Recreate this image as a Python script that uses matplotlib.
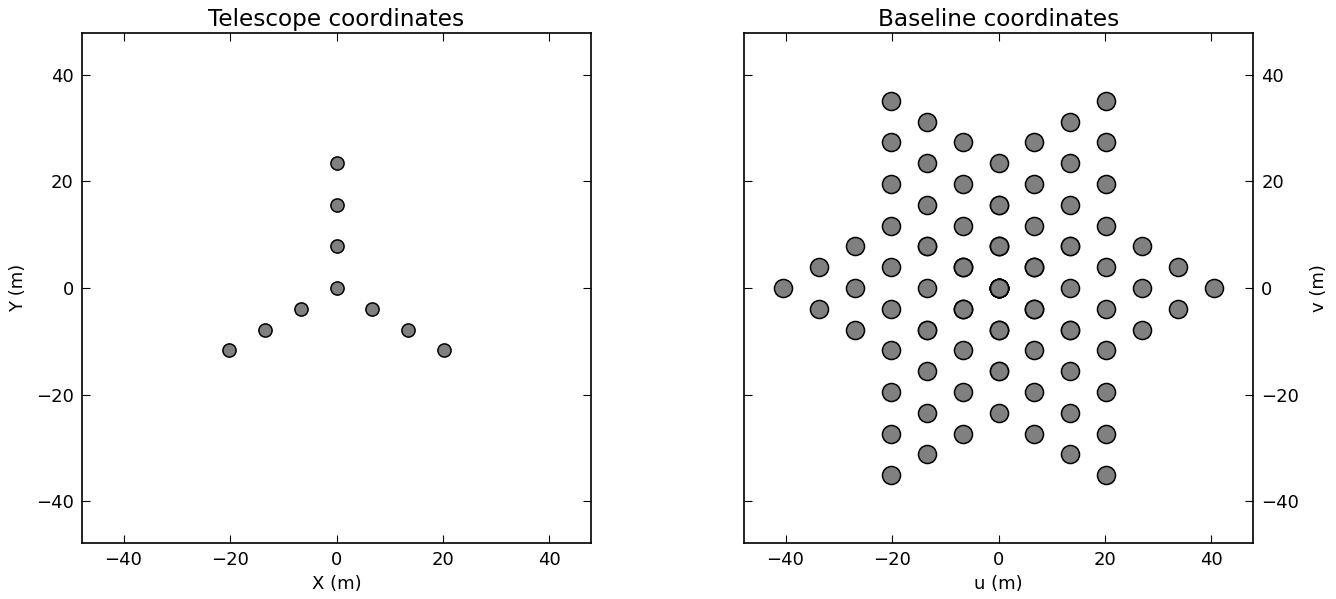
import matplotlib
matplotlib.use("Agg")
import matplotlib.pyplot as plt
import numpy as np

# antenna positions
ant_x = np.array([0.0, 0.0, 0.0, 0.0, -6.75, -13.5, -20.25, 6.75, 13.5, 20.25])
ant_y = np.array([0.0, 7.8, 15.6, 23.4, -3.9, -7.8, -11.7, -3.9, -7.8, -11.7])

# baselines = all pairwise differences of the antenna positions
bl_u = (ant_x[:, None] - ant_x[None, :]).ravel()
bl_v = (ant_y[:, None] - ant_y[None, :]).ravel()

lim = 47.8
ticks = [-40, -20, 0, 20, 40]

plt.rcParams['font.family'] = 'DejaVu Sans'
fig = plt.figure(figsize=(13.36, 5.99), dpi=100)
ax1 = fig.add_axes([82/1336, 56/599, 509/1336, 510/599])
ax2 = fig.add_axes([744/1336, 56/599, 509/1336, 510/599])

def style(ax):
    ax.set_xlim(-lim, lim)
    ax.set_ylim(-lim, lim)
    ax.set_xticks(ticks)
    ax.set_yticks(ticks)
    ax.tick_params(direction='in', length=6, width=0.8, labelsize=13,
                   top=True, right=True, left=True, bottom=True, pad=6)
    for s in ax.spines.values():
        s.set_linewidth(1.2)

ax1.plot(ant_x, ant_y, 'o', ls='none', ms=9.5, mfc='#808080', mec='black', mew=1.1)
style(ax1)
ax1.set_title("Telescope coordinates", fontsize=16.7, pad=5)
ax1.set_xlabel("X (m)", fontsize=13, labelpad=4)
ax1.set_ylabel("Y (m)", fontsize=13, labelpad=6)

ax2.plot(bl_u, bl_v, 'o', ls='none', ms=13, mfc='#808080', mec='black', mew=1.1)
style(ax2)
ax2.yaxis.tick_right()
ax2.yaxis.set_label_position('right')
ax2.tick_params(left=True, right=True, labelleft=False, labelright=True)
ax2.set_title("Baseline coordinates", fontsize=16.7, pad=5)
ax2.set_xlabel("u (m)", fontsize=13, labelpad=4)
ax2.set_ylabel("v (m)", fontsize=13, labelpad=8)

fig.savefig("out.png", dpi=100)
